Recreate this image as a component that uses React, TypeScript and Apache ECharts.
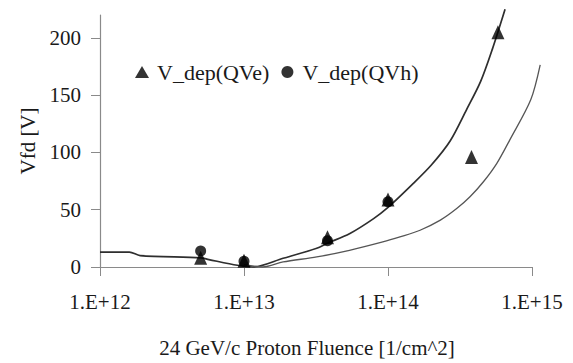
import React, { useEffect, useRef } from "react";
import * as echarts from "echarts";

// Measured depletion voltages vs fluence (x: 1/cm^2, y: V)
const qveFluence = [5e12, 1e13, 3.8e13, 1e14, 3.8e14, 5.8e14];
const qveVoltage = [8, 5.5, 26, 59, 96, 205];

const qvhFluence = [5e12, 1e13, 3.8e13, 1e14];
const qvhVoltage = [14, 5, 23, 57];

// Model curves
const upperFluence = [
  1e12, 1.6e12, 1.9e12, 5e12, 5.7e12, 9e12, 1.15e13, 1.87e13, 3.2e13, 3.8e13,
  5.4e13, 7.9e13, 1e14, 1.5e14, 2e14, 2.7e14, 3.5e14, 4.4e14, 5.3e14, 6.5e14,
];
const upperVoltage = [
  13, 13, 10, 8, 6.5, 1.5, 0, 7.6, 16.4, 20.8, 29, 42, 52, 73, 89, 110, 137,
  162, 190, 225,
];

const lowerFluence = [
  1e13, 1.35e13, 1.87e13, 3.2e13, 5.4e13, 9.2e13, 1.21e14, 1.67e14, 2.31e14,
  3.0e14, 3.71e14, 4.6e14, 5.7e14, 7.0e14, 9.8e14, 1.14e15,
];
const lowerVoltage = [
  2, 0, 4.4, 8.8, 14.6, 21.9, 26.3, 32.1, 40.9, 51, 61.3, 74.4, 90.5, 110.8,
  146, 176.5,
];

const yTicks = [0, 50, 100, 150, 200];

// The lower model runs a little past 1E+15, so it is drawn on an
// invisible grid with the same scale (144 px per decade) but a wider range.
const X_MIN = 1e12;
const X_MAX = 1e15;
const X_MAX_WIDE = Math.pow(10, 15.1);
const PLOT_LEFT = 100;
const PLOT_RIGHT = 41;
const PX_PER_DECADE = (573 - PLOT_LEFT - PLOT_RIGHT) / 3;
const WIDE_RIGHT = 573 - PLOT_LEFT - PX_PER_DECADE * 3.1;

const pairs = (xs: number[], ys: number[]) => xs.map((x, i) => [x, ys[i]]);

const FONT = "Liberation Serif";
const TEXT = "#1a1a1a";
const AXIS = "#8a8a8a";

export default function App() {
  const ref = useRef<HTMLDivElement>(null);

  useEffect(() => {
    if (!ref.current) return;
    const chart = echarts.init(ref.current, undefined, { renderer: "svg" });
    chart.setOption({
      animation: false,
      backgroundColor: "#ffffff",
      textStyle: { fontFamily: FONT },
      grid: [
        { left: PLOT_LEFT, right: PLOT_RIGHT, top: 15, bottom: 96 },
        { left: PLOT_LEFT, right: WIDE_RIGHT, top: 15, bottom: 96 },
      ],
      legend: {
        left: 130,
        top: 56,
        itemWidth: 14,
        itemHeight: 12,
        itemGap: 12,
        textStyle: {
          fontFamily: FONT,
          fontSize: 22,
          color: TEXT,
          padding: [0, 0, 0, 3],
        },
        data: [
          { name: "V_dep(QVe)", icon: "triangle" },
          { name: "V_dep(QVh)", icon: "circle" },
        ],
      },
      xAxis: [
        {
          type: "log",
          logBase: 10,
          min: X_MIN,
          max: X_MAX,
          gridIndex: 0,
          splitLine: { show: false },
          axisLine: { lineStyle: { color: AXIS, width: 1.2 } },
          axisTick: { inside: false, length: 9, lineStyle: { color: AXIS } },
          axisLabel: {
            margin: 24,
            fontFamily: FONT,
            fontSize: 21,
            color: TEXT,
            formatter: (v: number) => "1.E+" + Math.round(Math.log10(v)),
          },
        },
        {
          type: "log",
          logBase: 10,
          min: X_MIN,
          max: X_MAX_WIDE,
          gridIndex: 1,
          show: false,
        },
      ],
      yAxis: [
        {
          type: "value",
          min: 0,
          max: 220,
          interval: 50,
          gridIndex: 0,
          splitLine: { show: false },
          axisLine: { show: true, lineStyle: { color: AXIS, width: 1.2 } },
          axisTick: {
            show: true,
            length: 9,
            customValues: yTicks,
            lineStyle: { color: AXIS },
          },
          axisLabel: {
            customValues: yTicks,
            margin: 19,
            fontFamily: FONT,
            fontSize: 21,
            color: TEXT,
          },
        },
        {
          type: "value",
          min: 0,
          max: 220,
          interval: 50,
          gridIndex: 1,
          show: false,
        },
      ],
      graphic: [
        {
          type: "text",
          x: 28,
          y: 141,
          rotation: Math.PI / 2,
          style: {
            text: "Vfd [V]",
            fontFamily: FONT,
            fontSize: 21,
            fill: TEXT,
            textAlign: "center",
            textVerticalAlign: "middle",
          },
        },
        {
          type: "text",
          x: 307,
          y: 348,
          style: {
            text: "24 GeV/c Proton Fluence [1/cm^2]",
            fontFamily: FONT,
            fontSize: 21,
            fill: TEXT,
            textAlign: "center",
            textVerticalAlign: "middle",
          },
        },
      ],
      series: [
        {
          name: "upper model",
          type: "line",
          xAxisIndex: 0,
          yAxisIndex: 0,
          data: pairs(upperFluence, upperVoltage),
          smooth: 0.3,
          clip: false,
          showSymbol: false,
          lineStyle: { color: "#2e2e2e", width: 1.7 },
          z: 2,
        },
        {
          name: "lower model",
          type: "line",
          xAxisIndex: 1,
          yAxisIndex: 1,
          data: pairs(lowerFluence, lowerVoltage),
          smooth: 0.3,
          clip: false,
          showSymbol: false,
          lineStyle: { color: "#555555", width: 1.3 },
          z: 2,
        },
        {
          name: "V_dep(QVh)",
          type: "scatter",
          xAxisIndex: 0,
          yAxisIndex: 0,
          data: pairs(qvhFluence, qvhVoltage),
          symbol: "circle",
          symbolSize: 11,
          itemStyle: { color: "#000000" },
          z: 3,
        },
        {
          name: "V_dep(QVe)",
          type: "scatter",
          xAxisIndex: 0,
          yAxisIndex: 0,
          data: pairs(qveFluence, qveVoltage),
          symbol: "triangle",
          symbolSize: [13, 14],
          itemStyle: { color: "#000000" },
          z: 4,
        },
      ],
    });
    return () => chart.dispose();
  }, []);

  return (
    <div
      ref={ref}
      style={{ position: "absolute", left: 0, top: 0, width: 573, height: 363 }}
    />
  );
}
